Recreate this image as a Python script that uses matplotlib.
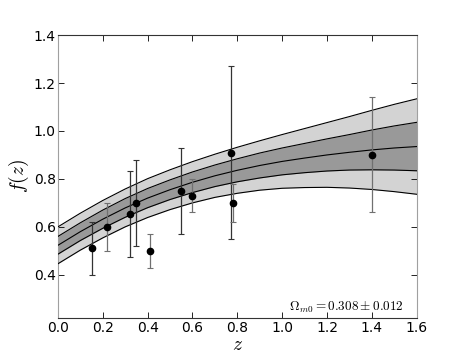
import matplotlib
matplotlib.use("Agg")
import matplotlib.pyplot as plt

plt.rcParams['mathtext.fontset'] = 'cm'

# model curve grid
z_grid = [0.0, 0.1, 0.2, 0.3, 0.4, 0.5, 0.6, 0.7, 0.8, 0.9, 1.0, 1.1, 1.2, 1.3, 1.4, 1.5, 1.6]
f_center = [0.523, 0.580, 0.632, 0.679, 0.720, 0.755, 0.786, 0.813, 0.836, 0.856, 0.873, 0.887, 0.900, 0.911, 0.921, 0.929, 0.935]
f_up2 = [0.600, 0.657, 0.710, 0.758, 0.801, 0.838, 0.872, 0.903, 0.932, 0.959, 0.985, 1.010, 1.035, 1.060, 1.086, 1.111, 1.134]
f_up1 = [0.560, 0.617, 0.670, 0.718, 0.760, 0.796, 0.829, 0.858, 0.884, 0.908, 0.929, 0.948, 0.967, 0.985, 1.004, 1.021, 1.036]
f_lo1 = [0.486, 0.543, 0.594, 0.640, 0.680, 0.714, 0.743, 0.768, 0.788, 0.804, 0.817, 0.826, 0.833, 0.837, 0.838, 0.837, 0.834]
f_lo2 = [0.446, 0.503, 0.554, 0.600, 0.639, 0.672, 0.700, 0.723, 0.740, 0.753, 0.761, 0.764, 0.765, 0.762, 0.756, 0.747, 0.736]

# data points
z_data = [0.15, 0.22, 0.32, 0.35, 0.41, 0.55, 0.60, 0.77, 0.78, 1.40]
f_data = [0.51, 0.60, 0.654, 0.70, 0.50, 0.75, 0.73, 0.91, 0.70, 0.90]
f_err = [0.11, 0.10, 0.18, 0.18, 0.07, 0.18, 0.07, 0.36, 0.08, 0.24]

xticks = [0.0, 0.2, 0.4, 0.6, 0.8, 1.0, 1.2, 1.4, 1.6]
yticks = [0.4, 0.6, 0.8, 1.0, 1.2, 1.4]

fig = plt.figure(figsize=(4.63, 3.54), dpi=100)
ax = fig.add_axes([0.125, 0.1017, 0.775, 0.7993])

ax.fill_between(z_grid, f_lo2, f_up2, color='#d3d3d3', lw=0, zorder=1)
ax.fill_between(z_grid, f_lo1, f_up1, color='#999999', lw=0, zorder=2)
for arr in (f_up2, f_up1, f_center, f_lo1, f_lo2):
    ax.plot(z_grid, arr, color='black', lw=0.8, zorder=3)

dark = [0, 2, 3, 5, 7]
for i in range(len(z_data)):
    col = '#333333' if i in dark else '#707070'
    ax.errorbar([z_data[i]], [f_data[i]], yerr=[f_err[i]], fmt='none',
                ecolor=col, elinewidth=0.9, capsize=2, capthick=0.8, zorder=4)
ax.plot(z_data, f_data, 'o', color='black', ms=4.5, zorder=5)

ax.set_xlim(0, 1.6)
ax.set_ylim(0.22, 1.4)
ax.set_xticks(xticks)
ax.set_yticks(yticks)
ax.tick_params(direction='in', top=True, right=True, labelsize=10, length=4, width=0.6)
ax.tick_params(axis='x', pad=2.5)
ax.tick_params(axis='y', pad=1.5)
for s in ('left', 'right'):
    ax.spines[s].set_color('#a0a0a0')
for s in ('top', 'bottom'):
    ax.spines[s].set_color('#333333')

ax.set_xlabel(r'$z$', fontsize=14, labelpad=0)
ax.set_ylabel(r'$f(z)$', fontsize=14, labelpad=2)
ax.text(0.965, 0.026, r'$\Omega_{m0}=0.308\pm0.012$', transform=ax.transAxes,
        ha='right', va='baseline', fontsize=9.5)

fig.savefig('out.png', dpi=100)
